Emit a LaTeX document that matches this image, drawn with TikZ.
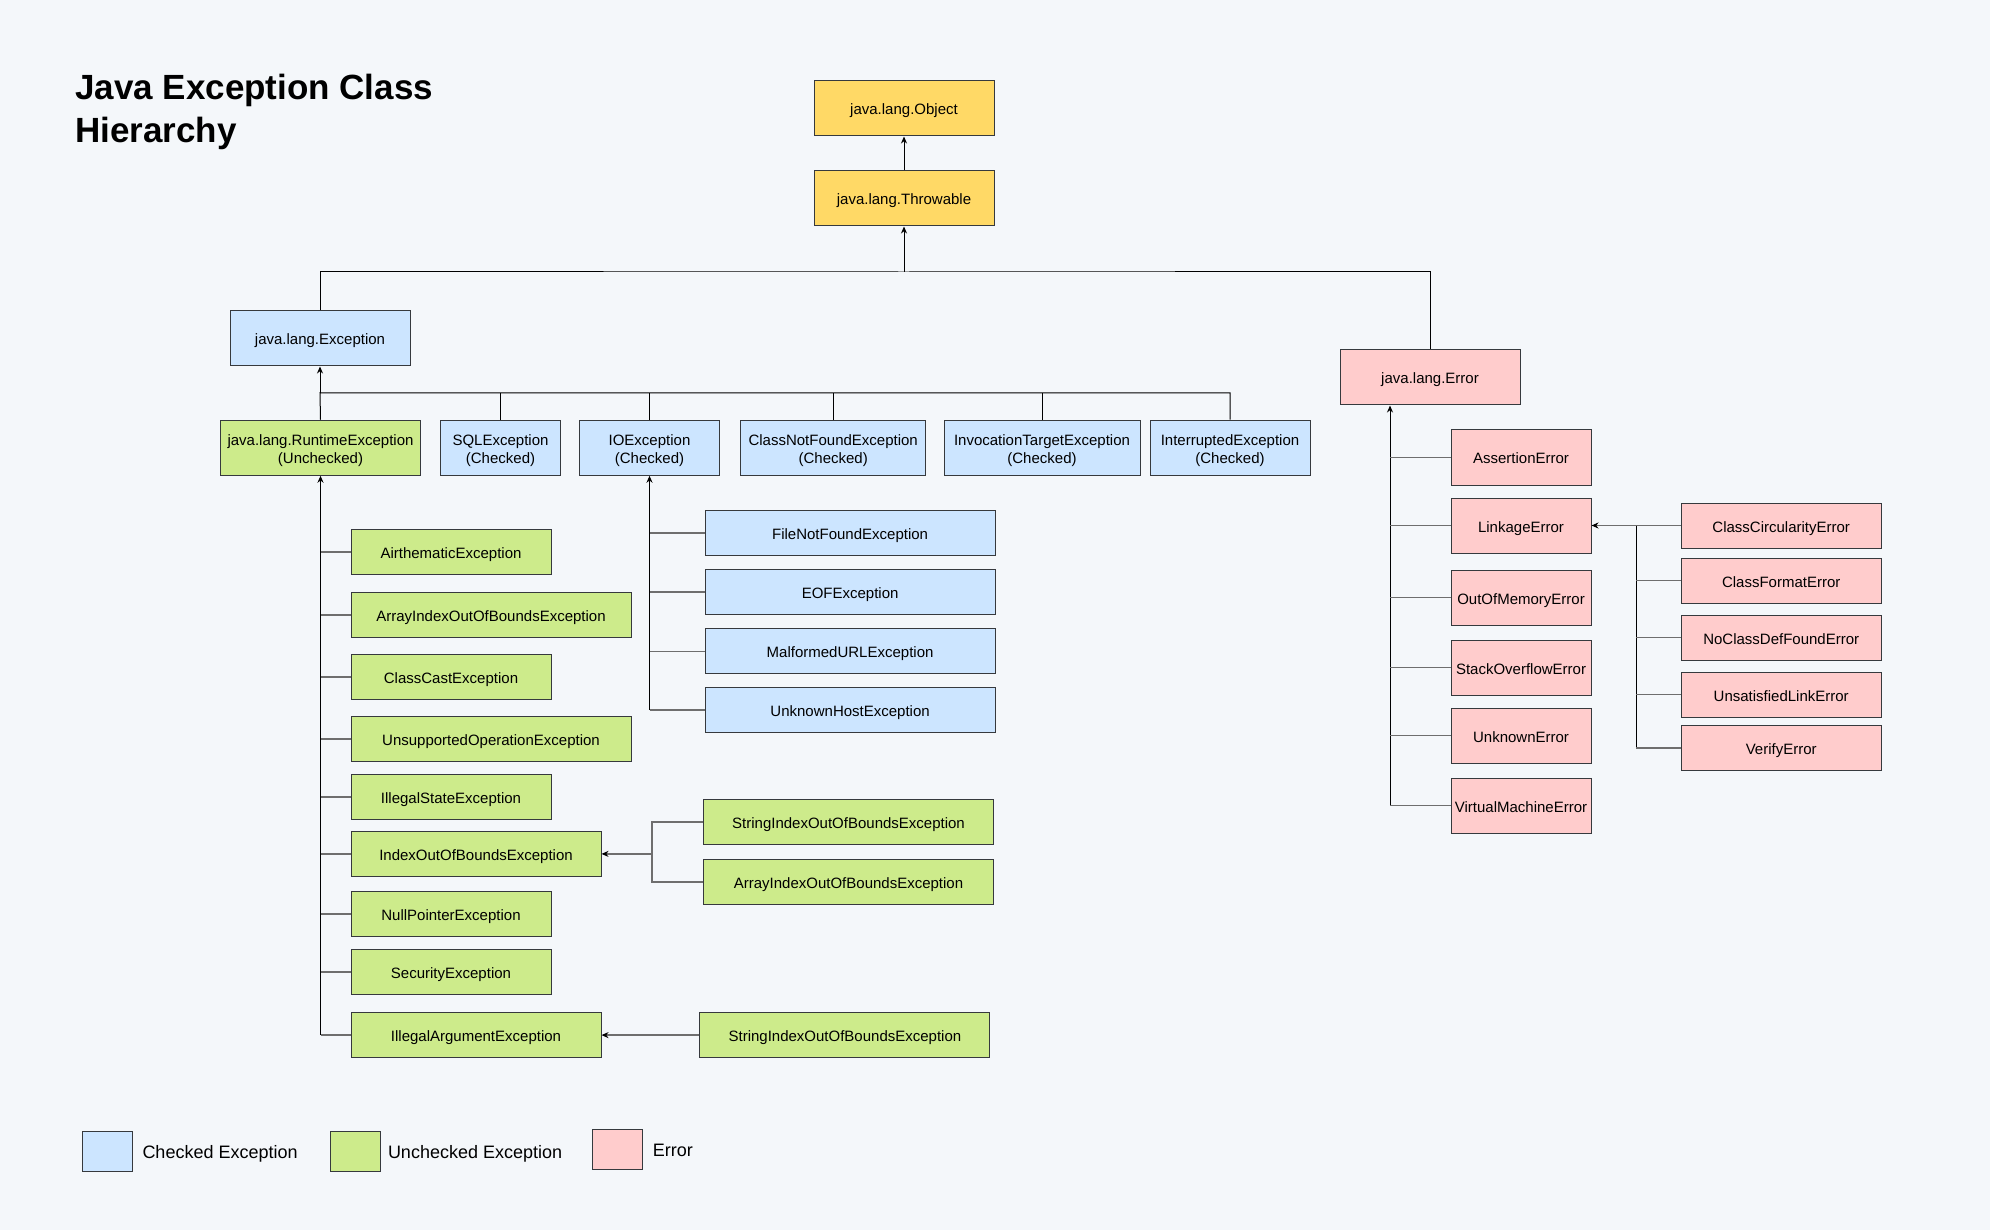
\documentclass[tikz,border=0pt]{standalone}
\usepackage{fontspec}
\setmainfont{Liberation Sans}
\usepackage{tikz}
\usetikzlibrary{arrows.meta}
\usetikzlibrary{calc}

\definecolor{bgcol}{HTML}{F4F7FA}
\definecolor{objcol}{HTML}{FFD966}
\definecolor{chkcol}{HTML}{CCE5FF}
\definecolor{unchkcol}{HTML}{CDEB8B}
\definecolor{errcol}{HTML}{FFCCCC}
\definecolor{edgecol}{HTML}{36393D}
\definecolor{stubcol}{HTML}{6E6E6E}

\begin{document}
\begin{tikzpicture}[x=1pt,y=-1pt,>={Stealth[length=7pt,width=6pt]},
	box/.style={rectangle,draw=edgecol,line width=1pt,inner sep=0pt,align=center,text height=13pt,text depth=0pt,font=\fontsize{15}{17.6}\selectfont},
	two line/.style={text height=30.6pt},
	obj node/.style={box,fill=objcol,minimum width=180pt,minimum height=55pt},
	checked node/.style={box,fill=chkcol,minimum height=55pt},
	unchecked node/.style={box,fill=unchkcol,minimum height=55pt},
	error node/.style={box,fill=errcol,minimum height=55pt},
	sub node/.style={minimum height=45pt,anchor=west},
	trunk/.style={draw=black,line width=1pt},
	stub/.style={draw=stubcol,line width=1.6pt},
	legend box/.style={rectangle,draw=edgecol,line width=1pt,minimum width=50pt,minimum height=40pt,inner sep=0pt},
	legend text/.style={anchor=base west,inner sep=0pt,font=\fontsize{18}{21}\selectfont}]

	\useasboundingbox (0,0) rectangle (1990,1230);
	\fill[bgcol] (0,0) rectangle (1990,1230);

	\node[anchor=base west,inner sep=0pt,align=left,font=\bfseries\fontsize{35}{42.3}\selectfont] (title) at (75,142.3) {Java Exception Class\\Hierarchy};

	\node[obj node] (Object) at (904,108.5) {java.lang.Object};
	\node[obj node] (Throwable) at (904,198.5) {java.lang.Throwable};
	\node[checked node,minimum width=180pt] (Exception) at (320,338.5) {java.lang.Exception};
	\node[error node,minimum width=180pt] (Error) at (1430,377.5) {java.lang.Error};

	\node[unchecked node,two line,minimum width=200pt] (Runtime) at (320.5,447.75) {java.lang.RuntimeException\\(Unchecked)};
	\node[checked node,two line,minimum width=120pt] (SQL) at (500.5,447.75) {SQLException\\(Checked)};
	\node[checked node,two line,minimum width=140pt] (IO) at (649.5,447.75) {IOException\\(Checked)};
	\node[checked node,two line,minimum width=185pt] (CNF) at (833.2,447.75) {ClassNotFoundException\\(Checked)};
	\node[checked node,two line,minimum width=196pt] (Invoc) at (1042,447.75) {InvocationTargetException\\(Checked)};
	\node[checked node,two line,minimum width=160pt] (Interr) at (1230,447.75) {InterruptedException\\(Checked)};

	\node[unchecked node,sub node,minimum width=200pt] (Airth) at (350.5,552.1) {AirthematicException};
	\node[unchecked node,sub node,minimum width=280pt] (ArrIdx) at (350.5,615) {ArrayIndexOutOfBoundsException};
	\node[unchecked node,sub node,minimum width=200pt] (ClsCast) at (350.5,677.1) {ClassCastException};
	\node[unchecked node,sub node,minimum width=280pt] (Unsupp) at (350.5,739.1) {UnsupportedOperationException};
	\node[unchecked node,sub node,minimum width=200pt] (IllState) at (350.5,797.1) {IllegalStateException};
	\node[unchecked node,sub node,minimum width=250pt] (IdxOOB) at (350.5,853.9) {IndexOutOfBoundsException};
	\node[unchecked node,sub node,minimum width=200pt] (NullPtr) at (350.5,914.1) {NullPointerException};
	\node[unchecked node,sub node,minimum width=200pt] (Security) at (350.5,972.1) {SecurityException};
	\node[unchecked node,sub node,minimum width=250pt] (IllArg) at (350.5,1035.1) {IllegalArgumentException};

	\node[unchecked node,sub node,minimum width=290pt] (StrIdx) at (703,822.2) {StringIndexOutOfBoundsException};
	\node[unchecked node,sub node,minimum width=290pt] (ArrIdxB) at (703,882.1) {ArrayIndexOutOfBoundsException};
	\node[unchecked node,sub node,minimum width=290pt] (StrIdxB) at (699.4,1035.1) {StringIndexOutOfBoundsException};

	\node[checked node,sub node,minimum width=290pt] (FileNF) at (704.6,532.9) {FileNotFoundException};
	\node[checked node,sub node,minimum width=290pt] (EOF) at (704.6,591.9) {EOFException};
	\node[checked node,sub node,minimum width=290pt] (MalURL) at (704.6,651.3) {MalformedURLException};
	\node[checked node,sub node,minimum width=290pt] (UnkHost) at (704.6,710.2) {UnknownHostException};

	\node[error node,anchor=west,minimum width=140pt] (Assertion) at (1450.5,457.5) {AssertionError};
	\node[error node,anchor=west,minimum width=140pt] (Linkage) at (1450.5,525.5) {LinkageError};
	\node[error node,anchor=west,minimum width=140pt] (OOM) at (1450.5,597.5) {OutOfMemoryError};
	\node[error node,anchor=west,minimum width=140pt] (StackOF) at (1450.5,667.5) {StackOverflowError};
	\node[error node,anchor=west,minimum width=140pt] (UnkErr) at (1450.5,735.5) {UnknownError};
	\node[error node,anchor=west,minimum width=140pt] (VME) at (1450.5,805.5) {VirtualMachineError};

	\node[error node,sub node,minimum width=200pt] (ClsCirc) at (1680.7,525.5) {ClassCircularityError};
	\node[error node,sub node,minimum width=200pt] (ClsFmt) at (1680.7,580.5) {ClassFormatError};
	\node[error node,sub node,minimum width=200pt] (NoClsDef) at (1680.7,637.5) {NoClassDefFoundError};
	\node[error node,sub node,minimum width=200pt] (UnsatLink) at (1680.7,694.5) {UnsatisfiedLinkError};
	\node[error node,sub node,minimum width=200pt] (Verify) at (1680.7,748) {VerifyError};

	\coordinate (tbus) at (904,272);
	\coordinate (ebus) at (320,393);
	\coordinate (ioobj) at ($(IdxOOB.east)!.5!(IdxOOB.east -| StrIdx.west)$);
	\coordinate (errj) at ([xshift=-40pt]Error.south);
	\coordinate (linkj) at ($(Linkage.east)!.5!(ClsCirc.west)$);

	\draw[trunk,->] (Throwable) -- (Object);
	\draw[trunk,->] (tbus) -- (Throwable.south);
	\draw[trunk] (Exception.north) |- (tbus) -| (Error.north);

	\draw[trunk,->] (ebus) -- (Exception.south);
	\draw[trunk] (Runtime.north) -- (ebus) -| (Interr.north);
	\foreach \n in {SQL,IO,CNF,Invoc}
		\draw[trunk] (\n.north) -- (\n.north |- ebus);

	\draw[trunk,->] (Runtime.south |- IllArg.west) -- (Runtime.south);
	\foreach \n in {Airth,ArrIdx,ClsCast,Unsupp,IllState,IdxOOB,NullPtr,Security,IllArg}
		\draw[stub] (\n.west) -- (\n.west -| Runtime.south);

	\draw[trunk,->] (IO.south |- UnkHost.west) -- (IO.south);
	\foreach \n in {FileNF,EOF,MalURL,UnkHost}
		\draw[stub] (\n.west) -- (\n.west -| IO.south);

	\draw[stub] (StrIdx.west) -| (ioobj) |- (ArrIdxB.west);
	\draw[stub,->,>={Stealth[length=7pt,width=6pt,color=black]}] (ioobj) -- (IdxOOB.east);
	\draw[stub,->,>={Stealth[length=7pt,width=6pt,color=black]}] (StrIdxB.west) -- (IllArg.east);

	\draw[trunk,->] (errj |- VME.west) -- (errj);
	\foreach \n in {Assertion,Linkage,OOM,StackOF,UnkErr,VME}
		\draw[stub] (\n.west) -- (\n.west -| errj);

	\draw[stub,->,>={Stealth[length=7pt,width=6pt,color=black]}] (ClsCirc.west) -- (Linkage.east);
	\draw[trunk] (linkj) -- (linkj |- Verify.west);
	\foreach \n in {ClsFmt,NoClsDef,UnsatLink,Verify}
		\draw[stub] (\n.west) -- (\n.west -| linkj);

	\node[legend box,fill=chkcol] (legchk) at (107.7,1151.3) {};
	\node[legend text] (legchktxt) at (142.3,1158) {Checked Exception};
	\node[legend box,fill=unchkcol] (legunchk) at (355.4,1151.3) {};
	\node[legend text] (legunchktxt) at (387.8,1158) {Unchecked Exception};
	\node[legend box,fill=errcol] (legerr) at (617,1149.3) {};
	\node[legend text] (legerrtxt) at (652.6,1156) {Error};

\end{tikzpicture}
\end{document}
